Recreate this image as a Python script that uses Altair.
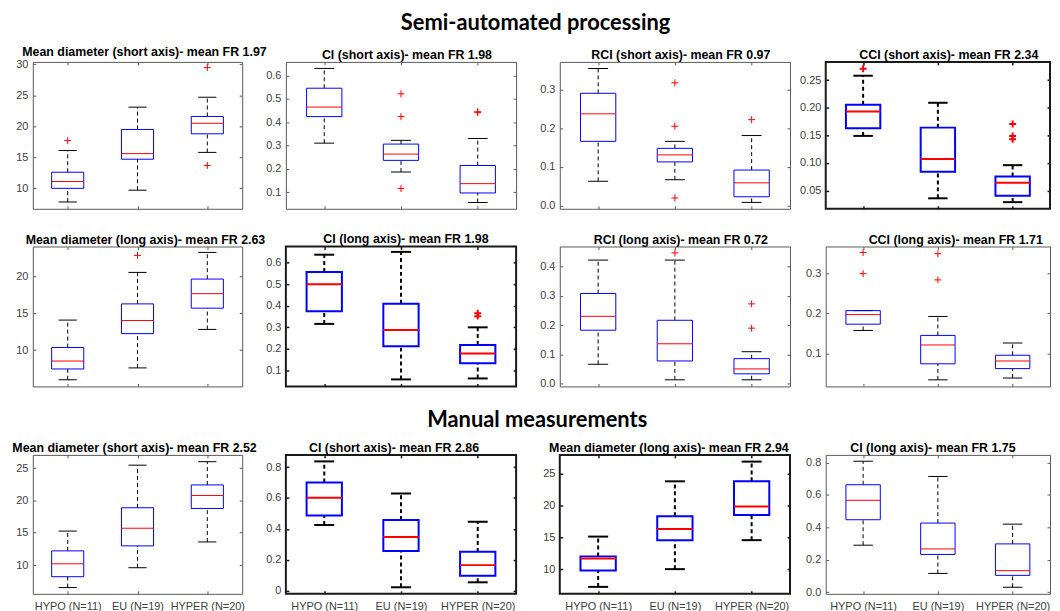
import altair as alt
import pandas as pd

GROUPS = ["HYPO (N=11)", "EU (N=19)", "HYPER (N=20)"]
GROUP_POS = [1, 2, 3]

SECTION_1 = "Semi-automated processing"
SECTION_2 = "Manual measurements"

# [lower whisker, q1, median, q3, upper whisker] per group (HYPO, EU, HYPER)
P1_TITLE = "Mean diameter (short axis)- mean FR 1.97"
P1_STATS = [[7.8, 10.0, 11.1, 12.6, 16.1], [9.7, 14.7, 15.6, 19.5, 23.1], [15.8, 18.8, 20.5, 21.6, 24.7]]
P1_OUT = [[17.7], [], [29.5, 13.7]]
P1_DOMAIN = [6.7, 30.4]
P1_TICKS = [10, 15, 20, 25, 30]

P2_TITLE = "CI (short axis)- mean FR 1.98"
P2_STATS = [[0.31, 0.424, 0.465, 0.546, 0.631], [0.186, 0.236, 0.263, 0.306, 0.322], [0.055, 0.096, 0.136, 0.214, 0.33]]
P2_OUT = [[], [0.522, 0.424, 0.115], [0.441, 0.445]]
P2_DOMAIN = [0.028, 0.659]
P2_TICKS = [0.1, 0.2, 0.3, 0.4, 0.5, 0.6]

P3_TITLE = "RCI (short axis)- mean FR 0.97"
P3_STATS = [[0.063, 0.166, 0.237, 0.29, 0.354], [0.067, 0.113, 0.131, 0.148, 0.166], [0.0085, 0.023, 0.059, 0.092, 0.181]]
P3_OUT = [[], [0.317, 0.205, 0.02], [0.222]]
P3_DOMAIN = [-0.008, 0.371]
P3_TICKS = [0.0, 0.1, 0.2, 0.3]

P4_TITLE = "CCI (short axis)- mean FR 2.34"
P4_STATS = [[0.149, 0.163, 0.193, 0.2056, 0.258], [0.036, 0.084, 0.107, 0.164, 0.209], [0.029, 0.0406, 0.064, 0.0755, 0.096]]
P4_OUT = [[0.2705], [], [0.1705, 0.149, 0.143]]
P4_DOMAIN = [0.017, 0.283]
P4_TICKS = [0.05, 0.10, 0.15, 0.20, 0.25]

P5_TITLE = "Mean diameter (long axis)- mean FR 2.63"
P5_STATS = [[6.0, 7.46, 8.53, 10.36, 14.06], [7.6, 12.23, 14.0, 16.25, 20.5], [12.8, 15.67, 17.63, 19.6, 23.2]]
P5_OUT = [[], [22.8], []]
P5_DOMAIN = [5.1, 24.0]
P5_TICKS = [10, 15, 20]

P6_TITLE = "CI (long axis)- mean FR 1.98"
P6_STATS = [[0.316, 0.375, 0.5, 0.557, 0.637], [0.0586, 0.212, 0.288, 0.41, 0.65], [0.063, 0.134, 0.179, 0.218, 0.3]]
P6_OUT = [[], [], [0.352, 0.365]]
P6_DOMAIN = [0.026, 0.675]
P6_TICKS = [0.1, 0.2, 0.3, 0.4, 0.5, 0.6]

P7_TITLE = "RCI (long axis)- mean FR 0.72"
P7_STATS = [[0.0667, 0.183, 0.2305, 0.3085, 0.4226], [0.0136, 0.078, 0.1367, 0.217, 0.4226], [0.0136, 0.034, 0.0508, 0.0859, 0.1096]]
P7_OUT = [[], [0.447], [0.273, 0.19]]
P7_DOMAIN = [-0.009, 0.469]
P7_TICKS = [0.0, 0.1, 0.2, 0.3, 0.4]

P8_TITLE = "CCI (long axis)- mean FR 1.71"
P8_STATS = [[0.157, 0.1727, 0.1967, 0.2066, 0.2066], [0.0335, 0.0736, 0.1207, 0.1446, 0.192], [0.038, 0.0616, 0.0806, 0.095, 0.1256]]
P8_OUT = [[0.352, 0.299], [0.349, 0.2835], []]
P8_DOMAIN = [0.017, 0.367]
P8_TICKS = [0.1, 0.2, 0.3]

P9_TITLE = "Mean diameter (short axis)- mean FR 2.52"
P9_STATS = [[6.52, 8.2, 10.2, 12.2, 15.26], [9.59, 12.97, 15.7, 18.87, 25.46], [13.58, 18.76, 20.77, 22.4, 26.0]]
P9_OUT = [[], [], []]
P9_DOMAIN = [5.55, 27.05]
P9_TICKS = [10, 15, 20, 25]

P10_TITLE = "CI (short axis)- mean FR 2.86"
P10_STATS = [[0.425, 0.487, 0.602, 0.70, 0.837], [0.0215, 0.257, 0.347, 0.457, 0.629], [0.0537, 0.0966, 0.165, 0.251, 0.446]]
P10_OUT = [[], [], []]
P10_DOMAIN = [-0.021, 0.879]
P10_TICKS = [0, 0.2, 0.4, 0.6, 0.8]

P11_TITLE = "Mean diameter (long axis)- mean FR 2.94"
P11_STATS = [[7.22, 9.8, 11.65, 12.0, 15.1], [10.0, 14.54, 16.3, 18.3, 23.76], [14.54, 18.5, 19.8, 23.76, 26.85]]
P11_OUT = [[], [], []]
P11_DOMAIN = [6.13, 27.9]
P11_TICKS = [10, 15, 20, 25]

P12_TITLE = "CI (long axis)- mean FR 1.75"
P12_STATS = [[0.29, 0.447, 0.567, 0.663, 0.808], [0.116, 0.233, 0.267, 0.4265, 0.714], [0.0306, 0.104, 0.133, 0.298, 0.42]]
P12_OUT = [[], [], []]
P12_DOMAIN = [-0.01, 0.847]
P12_TICKS = [0.0, 0.2, 0.4, 0.6, 0.8]

COL_W = [211, 232, 232, 226]
GAP_W = [24, 24, 16]   # extra blank width between panel columns
ROW_H = [148, 141, 140]
TITLE_DX = [[7, 6, 6, 11], [8, 5, 6, 18], [-3, -7, -6, -5]]

LABEL_FONT = "Liberation Sans"
LABEL_COLOR = "#404040"

label_expr = " : ".join(
    [f"datum.value == {p} ? '{g}'" for p, g in zip(GROUP_POS[:-1], GROUPS[:-1])] + [f"'{GROUPS[-1]}'"]
)


def panel(title, stats, outs, domain, ticks, fmt, bold, width, height, xlabels, dx):
    df = pd.DataFrame(
        [
            {"pos": GROUP_POS[i], "low": s[0], "q1": s[1], "med": s[2], "q3": s[3], "high": s[4]}
            for i, s in enumerate(stats)
        ]
    )
    sw = 2 if bold else 1
    frame = "#1a1a1a" if bold else "#5a5a5a"
    tw = 1.5 if bold else 1
    xs = alt.Scale(domain=[0.5, 3.5], nice=False, zero=False)
    ys = alt.Scale(domain=domain, nice=False, zero=False)
    tick_style = dict(ticks=True, tickSize=3, tickColor=frame, tickWidth=tw, offset=-3,
                      domain=False, grid=False, title=None)
    if xlabels:
        bottom = alt.Axis(values=GROUP_POS, labelExpr=label_expr, labelFontSize=11, labelColor=LABEL_COLOR,
                          labelFont=LABEL_FONT, labelPadding=7, labelOverlap=False, **tick_style)
    else:
        bottom = alt.Axis(values=GROUP_POS, labels=False, minExtent=0, maxExtent=0, **tick_style)
    top = alt.Axis(orient="top", values=GROUP_POS, labels=False, minExtent=0, maxExtent=0, **tick_style)
    left = alt.Axis(values=ticks, format=fmt, labelFontSize=11, labelColor=LABEL_COLOR, labelFont=LABEL_FONT,
                    labelPadding=5, labelOverlap=False, minExtent=24, maxExtent=24, **tick_style)
    right = alt.Axis(orient="right", values=ticks, labels=False, minExtent=0, maxExtent=0, **tick_style)

    def X(f, axis=None):
        return alt.X(f, scale=xs, axis=axis)

    def Y(f, axis=None):
        return alt.Y(f, scale=ys, axis=axis)

    base = alt.Chart(df).transform_calculate(
        xl="datum.pos - 0.23", xr="datum.pos + 0.23", cl="datum.pos - 0.13", cr="datum.pos + 0.13"
    )
    dash = [4, 3]
    w_up = base.mark_rule(color="black", strokeWidth=sw, strokeDash=dash).encode(
        x=X("pos:Q", bottom), y=Y("q3:Q", left), y2="high:Q"
    )
    w_lo = base.mark_rule(color="black", strokeWidth=sw, strokeDash=dash).encode(
        x=X("pos:Q"), y=Y("low:Q"), y2="q1:Q"
    )
    cap_hi = base.mark_rule(color="black", strokeWidth=sw).encode(x=X("cl:Q"), x2="cr:Q", y=Y("high:Q"))
    cap_lo = base.mark_rule(color="black", strokeWidth=sw).encode(x=X("cl:Q"), x2="cr:Q", y=Y("low:Q"))
    box = base.mark_rect(filled=False, stroke="#0000ff", strokeWidth=sw).encode(
        x=X("xl:Q", top), x2="xr:Q", y=Y("q1:Q", right), y2="q3:Q"
    )
    med = base.mark_rule(color="#ff0000", strokeWidth=sw).encode(x=X("xl:Q"), x2="xr:Q", y=Y("med:Q"))
    layers = [w_up, w_lo, cap_hi, cap_lo, box, med]
    out_rows = [{"pos": GROUP_POS[i], "val": v} for i, vals in enumerate(outs) for v in vals]
    if out_rows:
        odf = pd.DataFrame(out_rows)
        pts = alt.Chart(odf).mark_point(
            shape="M-1,0L1,0M0,-1L0,1", filled=False, color="#ff0000", size=49, strokeWidth=sw, opacity=1
        ).encode(x=X("pos:Q"), y=Y("val:Q"))
        layers.append(pts)
    return alt.layer(*layers).resolve_axis(x="independent", y="independent").properties(
        width=width,
        height=height,
        title=alt.TitleParams(title, fontSize=12.5, fontWeight="bold", font=LABEL_FONT, color="black",
                              offset=0, dx=dx),
        view=alt.ViewBackground(stroke=frame, strokeWidth=2 if bold else 1),
    )


def spacer(width, height):
    return alt.Chart(pd.DataFrame({"v": [0]})).mark_rule(opacity=0).encode(
        x=alt.value(0)
    ).properties(width=width, height=height, view=alt.ViewBackground(strokeOpacity=0))


def row(panels, height):
    items = []
    for i, p in enumerate(panels):
        items.append(p)
        if i < len(GAP_W):
            items.append(spacer(GAP_W[i], height))
    return alt.hconcat(*items, spacing=10, bounds="flush")


row1 = row([
    panel(P1_TITLE, P1_STATS, P1_OUT, P1_DOMAIN, P1_TICKS, "d", False, COL_W[0], ROW_H[0], False, TITLE_DX[0][0]),
    panel(P2_TITLE, P2_STATS, P2_OUT, P2_DOMAIN, P2_TICKS, ".1f", False, COL_W[1], ROW_H[0], False, TITLE_DX[0][1]),
    panel(P3_TITLE, P3_STATS, P3_OUT, P3_DOMAIN, P3_TICKS, ".1f", False, COL_W[2], ROW_H[0], False, TITLE_DX[0][2]),
    panel(P4_TITLE, P4_STATS, P4_OUT, P4_DOMAIN, P4_TICKS, ".2f", True, COL_W[3], ROW_H[0], False, TITLE_DX[0][3]),
], ROW_H[0])
row2 = row([
    panel(P5_TITLE, P5_STATS, P5_OUT, P5_DOMAIN, P5_TICKS, "d", False, COL_W[0], ROW_H[1], False, TITLE_DX[1][0]),
    panel(P6_TITLE, P6_STATS, P6_OUT, P6_DOMAIN, P6_TICKS, ".1f", True, COL_W[1], ROW_H[1], False, TITLE_DX[1][1]),
    panel(P7_TITLE, P7_STATS, P7_OUT, P7_DOMAIN, P7_TICKS, ".1f", False, COL_W[2], ROW_H[1], False, TITLE_DX[1][2]),
    panel(P8_TITLE, P8_STATS, P8_OUT, P8_DOMAIN, P8_TICKS, ".1f", False, COL_W[3], ROW_H[1], False, TITLE_DX[1][3]),
], ROW_H[1])
row3 = row([
    panel(P9_TITLE, P9_STATS, P9_OUT, P9_DOMAIN, P9_TICKS, "d", False, COL_W[0], ROW_H[2], True, TITLE_DX[2][0]),
    panel(P10_TITLE, P10_STATS, P10_OUT, P10_DOMAIN, P10_TICKS, "~g", True, COL_W[1], ROW_H[2], True, TITLE_DX[2][1]),
    panel(P11_TITLE, P11_STATS, P11_OUT, P11_DOMAIN, P11_TICKS, "d", True, COL_W[2], ROW_H[2], True, TITLE_DX[2][2]),
    panel(P12_TITLE, P12_STATS, P12_OUT, P12_DOMAIN, P12_TICKS, ".1f", False, COL_W[3], ROW_H[2], True, TITLE_DX[2][3]),
], ROW_H[2]).properties(
    title=alt.TitleParams(SECTION_2, font="Lato", fontSize=22, fontWeight="bold", color="black",
                          anchor="middle", offset=9, dx=6)
)

upper = alt.vconcat(row1, row2, spacing=20)

chart = alt.vconcat(upper, row3, spacing=19).properties(
    title=alt.TitleParams(SECTION_1, font="Lato", fontSize=22, fontWeight="bold", color="black",
                          anchor="middle", offset=11, dx=4),
    padding={"left": 3, "top": 1, "right": 0, "bottom": 0},
).configure(background="white")

chart.save("out.html", embed_options={"renderer": "svg", "actions": False})
